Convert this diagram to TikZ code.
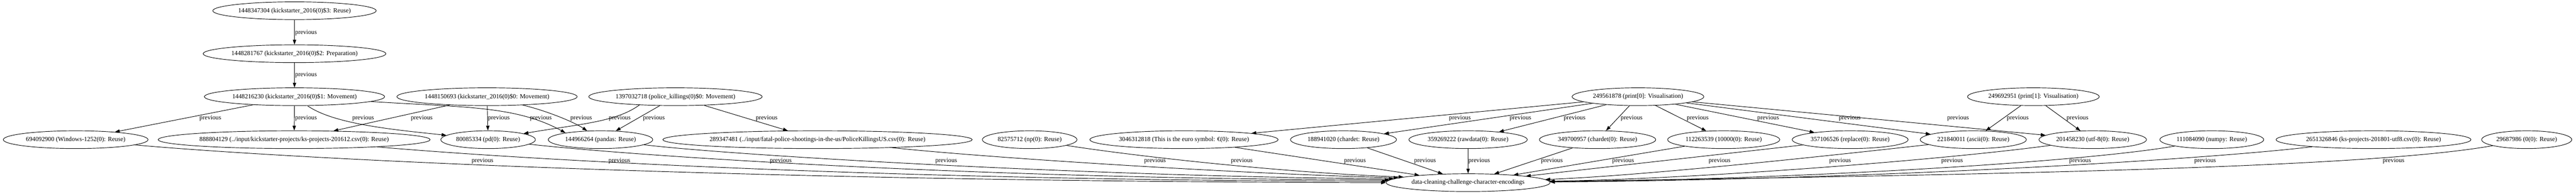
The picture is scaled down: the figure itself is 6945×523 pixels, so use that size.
\documentclass[tikz,border=0pt]{standalone}
\usepackage{fontspec}
\setmainfont{Liberation Serif}
\usetikzlibrary{shapes.geometric,arrows.meta}
\begin{document}
\begin{tikzpicture}[x=1pt, y=1pt, line width=1.3pt,
	main/.style = {draw, ellipse, inner xsep=4pt, inner ysep=2pt, minimum height=48pt, font=\fontsize{17}{20}\selectfont},
	lbl/.style = {inner sep=0pt, font=\fontsize{17}{20}\selectfont},
	prev/.style = {-{Triangle[length=13pt, width=9pt]}}]
			\useasboundingbox (0,0) rectangle (6945,523);
			\node[main] (1448347304) at (794,494) {1448347304 (kickstarter\_2016(0)\$3: Reuse)};
			\node[main] (1448281767) at (794,378) {1448281767 (kickstarter\_2016(0)\$2: Preparation)};
			\node[main] (1448216230) at (794,262) {1448216230 (kickstarter\_2016(0)\$1: Movement)};
			\node[main] (1448150693) at (1313,262) {1448150693 (kickstarter\_2016(0)\$0: Movement)};
			\node[main] (1397032718) at (1821,262) {1397032718 (police\_killings(0)\$0: Movement)};
			\node[main] (249561878) at (4416,262) {249561878 (print[0]: Visualisation)};
			\node[main] (249692951) at (5482,262) {249692951 (print[1]: Visualisation)};
			\node[main] (694092900) at (204,146) {694092900 (Windows-1252(0): Reuse)};
			\node[main] (888804129) at (793,146) {888804129 (../input/kickstarter-projects/ks-projects-201612.csv(0): Reuse)};
			\node[main] (80085334) at (1316,146) {80085334 (pd(0): Reuse)};
			\node[main] (144966264) at (1619,146) {144966264 (pandas: Reuse)};
			\node[main] (289347481) at (2204,146) {289347481 (../input/fatal-police-shootings-in-the-us/PoliceKillingsUS.csv(0): Reuse)};
			\node[main] (82575712) at (2776,146) {82575712 (np(0): Reuse)};
			\node[main] (3046312818) at (3192,146) {3046312818 (This is the euro symbol: €(0): Reuse)};
			\node[main] (188941020) at (3622,146) {188941020 (chardet: Reuse)};
			\node[main] (359269222) at (3958,146) {359269222 (rawdata(0): Reuse)};
			\node[main] (349700957) at (4307,146) {349700957 (chardet(0): Reuse)};
			\node[main] (112263539) at (4647,146) {112263539 (10000(0): Reuse)};
			\node[main] (357106526) at (4988,146) {357106526 (replace(0): Reuse)};
			\node[main] (221840011) at (5320,146) {221840011 (ascii(0): Reuse)};
			\node[main] (201458230) at (5642,146) {201458230 (utf-8(0): Reuse)};
			\node[main] (111084090) at (5963,146) {111084090 (numpy: Reuse)};
			\node[main] (2651326846) at (6399,146) {2651326846 (ks-projects-201801-utf8.csv(0): Reuse)};
			\node[main] (29687986) at (6812,146) {29687986 (0(0): Reuse)};
			\node[main] (encodings) at (3958,30) {data-cleaning-challenge-character-encodings};
			\draw[prev] (1448347304) -- (1448281767) node[lbl] at (825,435) {previous};
			\draw[prev] (1448281767) -- (1448216230) node[lbl] at (825,320) {previous};
			\draw[prev] (1448216230) -- (694092900) node[lbl] at (567,204) {previous};
			\draw[prev] (1448216230) -- (888804129) node[lbl] at (825,204) {previous};
			\draw[prev] (1448216230) .. controls (900,188) and (1060,173) .. (80085334) node[lbl] at (979,204) {previous};
			\draw[prev] (1448216230) .. controls (1250,233) and (1390,238) .. (144966264.169) node[lbl] at (1458,204) {previous};
			\draw[prev] (1448150693) -- (888804129) node[lbl] at (1137,204) {previous};
			\draw[prev] (1448150693) -- (80085334) node[lbl] at (1345,204) {previous};
			\draw[prev] (1448150693) .. controls (1470,225) and (1545,195) .. (144966264) node[lbl] at (1567,204) {previous};
			\draw[prev] (1397032718.193) .. controls (1660,193) and (1560,188) .. (80085334) node[lbl] at (1671,204) {previous};
			\draw[prev] (1397032718) -- (144966264) node[lbl] at (1763,204) {previous};
			\draw[prev] (1397032718) -- (289347481) node[lbl] at (2067,204) {previous};
			\draw[prev] (249561878) -- (3046312818) node[lbl] at (3936,204) {previous};
			\draw[prev] (249561878) -- (188941020) node[lbl] at (4099,204) {previous};
			\draw[prev] (249561878) -- (359269222) node[lbl] at (4245,204) {previous};
			\draw[prev] (249561878) -- (349700957) node[lbl] at (4399,204) {previous};
			\draw[prev] (249561878) -- (112263539) node[lbl] at (4577,204) {previous};
			\draw[prev] (249561878) -- (357106526) node[lbl] at (4767,204) {previous};
			\draw[prev] (249561878) -- (221840011) node[lbl] at (4987,204) {previous};
			\draw[prev] (249561878) -- (201458230) node[lbl] at (5279,204) {previous};
			\draw[prev] (249692951) -- (221840011) node[lbl] at (5440,204) {previous};
			\draw[prev] (249692951) -- (201458230) node[lbl] at (5601,204) {previous};
			\draw[prev] (694092900) .. controls (800,93) and (2000,33) .. (encodings.180) node[lbl] at (1301,88) {previous};
			\draw[prev] (888804129) .. controls (1400,93) and (2400,35) .. (encodings.179) node[lbl] at (1670,88) {previous};
			\draw[prev] (80085334) .. controls (1750,98) and (2700,39) .. (encodings.178) node[lbl] at (2105,88) {previous};
			\draw[prev] (144966264) .. controls (2000,101) and (3000,45) .. (encodings.177) node[lbl] at (2551,88) {previous};
			\draw[prev] (289347481) .. controls (2650,98) and (3350,53) .. (encodings.176) node[lbl] at (3114,88) {previous};
			\draw[prev] (82575712) .. controls (3050,103) and (3450,57) .. (encodings.175) node[lbl] at (3348,88) {previous};
			\draw[prev] (3046312818) -- (encodings) node[lbl] at (3653,88) {previous};
			\draw[prev] (188941020) -- (encodings) node[lbl] at (3842,88) {previous};
			\draw[prev] (359269222) -- (encodings) node[lbl] at (3988,88) {previous};
			\draw[prev] (349700957) -- (encodings) node[lbl] at (4184,88) {previous};
			\draw[prev] (112263539) -- (encodings) node[lbl] at (4376,88) {previous};
			\draw[prev] (357106526) -- (encodings) node[lbl] at (4636,88) {previous};
			\draw[prev] (221840011) .. controls (4950,105) and (4450,50) .. (encodings) node[lbl] at (4961,88) {previous};
			\draw[prev] (201458230) .. controls (5250,93) and (4600,41) .. (encodings) node[lbl] at (5263,88) {previous};
			\draw[prev] (111084090) .. controls (5600,83) and (4800,38) .. (encodings) node[lbl] at (5608,88) {previous};
			\draw[prev] (2651326846) .. controls (5900,88) and (5000,38) .. (encodings) node[lbl] at (5945,88) {previous};
			\draw[prev] (29687986) .. controls (6400,73) and (5500,53) .. (encodings) node[lbl] at (6453,88) {previous};
		\end{tikzpicture}
\end{document}
